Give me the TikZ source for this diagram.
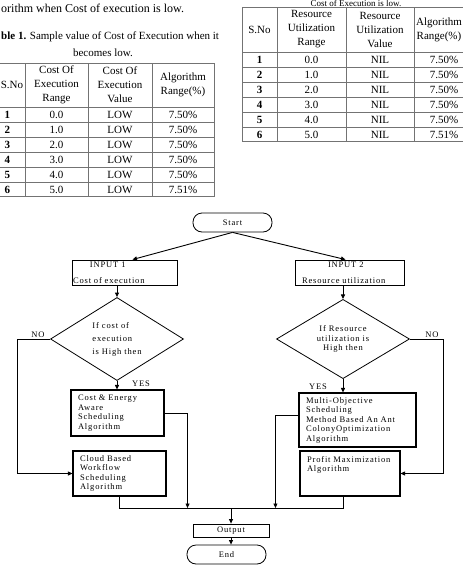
\documentclass[tikz,border=0pt]{standalone}
\usepackage{fontspec}
\setmainfont{Liberation Serif}
\newfontfamily\flowfont[LetterSpace=10]{Liberation Serif}
\usetikzlibrary{shapes.geometric,arrows.meta,calc}

\tikzset{
  txt/.style={font=\fontsize{11}{14}\selectfont, inner sep=0pt},
  tbl/.style={draw=black!55, line width=0.7pt},
  flow/.style={font=\flowfont\fontsize{8.5}{9.5}\selectfont, inner sep=0pt},
  inbox/.style={flow, draw, line width=0.9pt, align=left, inner xsep=1pt, minimum height=25pt},
  box/.style={flow, draw, line width=1.1pt, align=left, inner xsep=7pt},
  term/.style={flow, draw, line width=0.8pt, rounded corners=9pt, minimum width=79pt, minimum height=19pt},
  outbox/.style={flow, draw, line width=0.8pt, minimum width=76pt, minimum height=13pt},
  decide/.style={flow, draw, line width=0.8pt, diamond, minimum width=133pt, minimum height=77pt, align=center},
  link/.style={line width=0.9pt},
  arr/.style={line width=0.9pt, -{Triangle[length=4.5pt,width=4pt]}}
}

\begin{document}
\begin{tikzpicture}[x=1pt, y=-1pt]
        % 画布
        \clip (0,0) rectangle (463,568);
        % 正文与表题
        \node[txt, anchor=west, font=\fontsize{12}{14}\selectfont] (para) at (1,8) {orithm when Cost of execution is low.};
        \node[txt, anchor=west] (capa) at (1,37) {\textbf{ble 1.} Sample value of Cost of Execution when it};
        \node[txt] (capa2) at (103,53) {becomes low.};
        \node[txt, font=\fontsize{9}{11}\selectfont] (capb) at (356,3.4) {Cost of Execution is low.};
        % 表 1
        \draw[tbl] (-10,63) rectangle (214,196);
        \foreach \y in {107,122,137,152,167,182} \draw[tbl] (-10,\y) -- (214,\y);
        \foreach \x in {25,88,152} \draw[tbl] (\x,63) -- (\x,196);
        \node[txt] (ah1) at (12,85) {S.No};
        \node[txt, align=center] (ah2) at (56.5,85) {Cost Of\\Execution\\Range};
        \node[txt, align=center] (ah3) at (120,85) {Cost Of\\Execution\\Value};
        \node[txt, align=center] (ah4) at (183,85) {Algorithm\\Range(\%)};
        \foreach \r/\p [count=\i] in {0.0/7.50, 1.0/7.50, 2.0/7.50, 3.0/7.50, 4.0/7.50, 5.0/7.51} {
          \node[txt] (a\i-1) at (7.5,99.5+15*\i) {\textbf{\i}};
          \node[txt] (a\i-2) at (56.5,99.5+15*\i) {\r};
          \node[txt] (a\i-3) at (120,99.5+15*\i) {LOW};
          \node[txt] (a\i-4) at (183,99.5+15*\i) {\p\%};
        }
        % 表 2
        \draw[tbl] (242,7) rectangle (476,141);
        \foreach \y in {52,67,82,97,112,127} \draw[tbl] (242,\y) -- (476,\y);
        \foreach \x in {277,346,414} \draw[tbl] (\x,7) -- (\x,141);
        \node[txt] (bh1) at (259.5,29.5) {S.No};
        \node[txt, align=center] (bh2) at (311.5,29.5) {Resource\\Utilization\\Range};
        \node[txt, align=center] (bh3) at (380,29.5) {Resource\\Utilization\\Value};
        \node[txt, align=center] (bh4) at (439,29.5) {Algorithm\\Range(\%)};
        \foreach \r/\p [count=\i] in {0.0/7.50, 1.0/7.50, 2.0/7.50, 3.0/7.50, 4.0/7.50, 5.0/7.51} {
          \node[txt] (b\i-1) at (259.5,44.5+15*\i) {\textbf{\i}};
          \node[txt] (b\i-2) at (311.5,44.5+15*\i) {\r};
          \node[txt] (b\i-3) at (380,44.5+15*\i) {NIL};
          \node[txt] (b\i-4) at (444,44.5+15*\i) {\p\%};
        }
        % 流程图节点
        \node[term] (start) at (232.5,222.5) {Start};
        \node[inbox, text width=103pt] (in1) at (124.5,272.5) {\hspace*{17pt}INPUT 1\\[7pt]Cost~of~execution};
        \node[inbox, text width=107pt] (in2) at (349.5,272.5) {\hspace*{32pt}INPUT 2\\[7pt]\hspace*{6pt}Resource~utilization};
        \node[decide, align=left] (dec1) at (117,339) {If cost of\\[3.5pt]execution\\[3.5pt]is High then};
        \node[decide] (dec2) at (343,339) {If Resource\\utilization is\\High then};
        \node[box, text width=79pt, minimum height=46pt] (cea) at (117.5,413) {Cost~\&~Energy\\Aware\\Scheduling\\Algorithm};
        \node[box, text width=79pt, minimum height=45pt] (cbw) at (119.5,473.5) {Cloud~Based\\Workflow\\Scheduling\\Algorithm};
        \node[box, text width=103pt, minimum height=54pt] (moa) at (357.5,420) {Multi-Objective\\Scheduling\\Method~Based~An~Ant\\ColonyOptimization\\Algorithm};
        \node[box, text width=86pt, minimum height=45pt] (pma) at (350,473.5) {Profit~Maximization\\Algorithm\\\mbox{}\\\mbox{}};
        \node[outbox] (out) at (231,530.5) {Output};
        \node[term] (stop) at (226.5,554.5) {End};
        % 分支标记
        \node[flow] (noa-t) at (38,335) {NO};
        \node[flow] (yesa-t) at (141,384) {YES};
        \node[flow] (yesb-t) at (318,387) {YES};
        \node[flow] (nob-t) at (432,335) {NO};
        % 连线
        \draw[arr] (start.south) -- ($(in1.north)+(8,0)$);
        \draw[arr] (start.south) -- ($(in2.north)+(-4,0)$);
        \draw[arr] (in1.south -| dec1.north) -- (dec1.north);
        \draw[arr] (in2.south -| dec2.north) -- (dec2.north);
        \draw[arr] (dec1.south) -- (dec1.south |- cea.north);
        \draw[arr] (dec2.south) -- (dec2.south |- moa.north);
        % NO 分支
        \coordinate (noa) at (17,339);
        \draw[arr] (dec1.west) -- (noa) |- (cbw.west);
        \coordinate (nob) at (443,339);
        \draw[arr] (dec2.east) -- (nob) |- (pma.east);
        % 汇合
        \coordinate (bus) at (231,508);
        \coordinate (ps) at ([xshift=-7pt]pma.south);
        \draw[arr] (cea.east) -- ++(23,0) coordinate (ja) -- (ja |- bus);
        \draw[arr] ([yshift=5pt]moa.west) -- ++(-23,0) coordinate (jb) -- (jb |- bus);
        \draw[link] (cbw.south) -- (cbw.south |- bus) -- (ps |- bus) -- (ps);
        \draw[arr] (bus) -- (out.north);
        \draw[arr] (out.south) -- (out.south |- stop.north);
    \end{tikzpicture}
\end{document}
